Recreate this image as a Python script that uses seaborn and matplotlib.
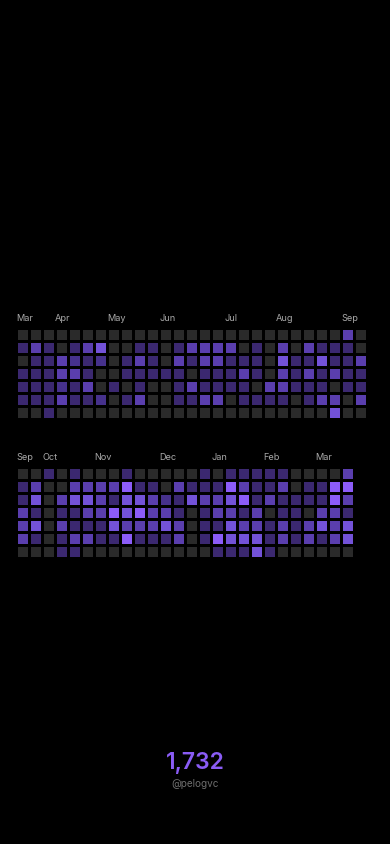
import numpy as np
import pandas as pd
import matplotlib
matplotlib.use("Agg")
import matplotlib.pyplot as plt
from matplotlib.colors import ListedColormap
import seaborn as sns

# ---- data: activity level per day (rows = weekday, cols = week) ----
top_rows = [
    [0,0,0,0,0,0,0,0,0, 0,0,0,0,0,0,0,0,0, 0,0,0,0,0,0,0,3,0],
    [1,3,1,0,1,3,4,0,0, 1,1,0,1,3,3,3,3,0, 1,0,3,0,3,1,1,1,0],
    [0,1,1,3,2,1,2,0,1, 3,1,0,3,1,3,3,1,1, 1,0,4,1,1,4,1,1,3],
    [1,1,1,3,3,1,0,0,1, 1,1,1,1,0,1,1,1,3, 1,0,3,1,3,1,3,1,1],
    [1,1,1,2,1,3,0,1,0, 1,0,0,1,3,1,1,1,1, 0,3,3,1,1,1,0,1,1],
    [1,1,1,3,1,1,2,0,1, 3,0,0,1,1,3,3,0,1, 1,1,1,0,1,3,3,0,3],
    [0,0,1,0,0,0,0,0,0, 0,0,0,0,0,0,0,0,0, 0,0,0,0,0,0,4,0,0],
]
bottom_rows = [
    [0,0,1,0,1,0,0,0,1, 0,0,0,0,0,1,0,1,1, 1,1,1,0,0,0,0,3],
    [1,3,0,0,3,3,3,3,5, 1,1,0,3,1,1,1,5,3, 1,1,3,0,1,1,5,5],
    [1,4,0,3,4,4,3,1,4, 4,3,2,1,4,3,3,4,5, 1,3,1,1,1,1,5,3],
    [3,1,0,1,1,3,3,5,4, 5,3,3,1,0,1,3,3,1, 3,0,1,1,0,3,3,1],
    [3,4,0,3,1,1,1,4,3, 3,3,4,3,0,1,1,4,3, 3,1,3,1,3,4,3,4],
    [3,1,0,1,3,3,1,1,5, 1,1,1,3,0,1,5,4,4, 4,1,3,1,3,1,3,4],
    [0,0,0,1,1,0,0,0,0, 0,0,0,0,0,0,1,1,1, 4,1,0,0,0,0,0,0],
]
top_months = ["Mar", "Apr", "May", "Jun", "Jul", "Aug", "Sep"]
top_month_cols = [0, 3, 7, 11, 16, 20, 25]
bottom_months = ["Sep", "Oct", "Nov", "Dec", "Jan", "Feb", "Mar"]
bottom_month_cols = [0, 2, 6, 11, 15, 19, 23]
total = "1,732"
handle = "@pelogvc"

level_colors = ["#2a2a2a", "#3b2870", "#46318c", "#5a3eae", "#7352d8", "#8c5cf8"]
cmap = ListedColormap(level_colors)

sns.set_theme(style="white")
plt.rcParams['font.family'] = ['Inter', 'DejaVu Sans']

W, H = 390, 844
fig = plt.figure(figsize=(W / 100, H / 100), dpi=100, facecolor="black")


def block(rows, months, month_cols, top_px):
    data = pd.DataFrame(np.array(rows))
    ncols = data.shape[1]
    left_px = 16
    width_px = ncols * 13
    height_px = 7 * 13
    ax = fig.add_axes([left_px / W, 1 - (top_px + height_px) / H,
                       width_px / W, height_px / H])
    ax.set_facecolor("black")
    sns.heatmap(data, ax=ax, cmap=cmap, vmin=-0.5, vmax=5.5, cbar=False,
                linewidths=1.0, linecolor="black", square=False,
                xticklabels=False, yticklabels=False)
    for name, c in zip(months, month_cols):
        ax.text(c + 0.02, -0.72, name, color="#a8a8a8", fontsize=6.6,
                ha="left", va="center")
    ax.set_xlabel("")
    ax.set_ylabel("")
    for s in ax.spines.values():
        s.set_visible(False)
    return ax


block(top_rows, top_months, top_month_cols, 327.5)
block(bottom_rows, bottom_months, bottom_month_cols, 466.5)

fig.text(0.5, 1 - 763.5 / H, total, color="#8a5cf5", fontsize=16.5,
         fontweight="semibold", ha="center", va="center")
fig.text(0.5, 1 - 784 / H, handle, color="#6e6e6e", fontsize=7.2,
         ha="center", va="center")

fig.savefig("out.png", dpi=100, facecolor="black")
